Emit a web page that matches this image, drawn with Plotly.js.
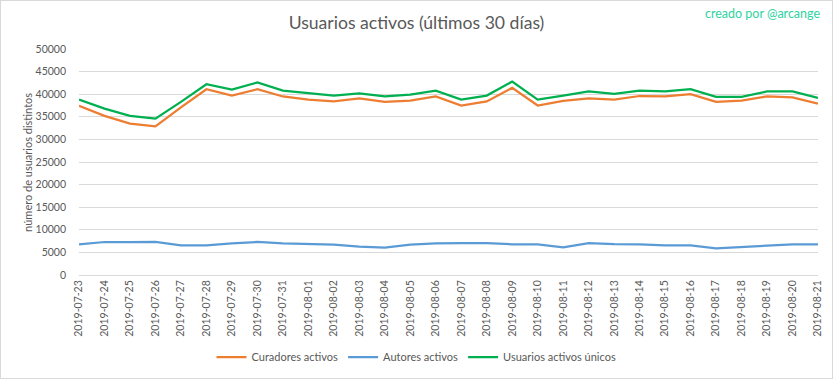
<!DOCTYPE html>
<html>
<head>
<meta charset="utf-8">
<script src="https://cdn.plot.ly/plotly-3.0.1.min.js"></script>
<style>
html,body{margin:0;padding:0;background:#fff;}
#wrap{position:relative;width:833px;height:379px;}
#chart{width:833px;height:379px;}
#frame{position:absolute;left:0;top:0;width:833px;height:379px;box-sizing:border-box;border:1px solid #d9d9d9;pointer-events:none;}
</style>
</head>
<body>
<div id="wrap"><div id="chart"></div><div id="frame"></div></div>
<script>
const dates = ["2019-07-23","2019-07-24","2019-07-25","2019-07-26","2019-07-27","2019-07-28","2019-07-29","2019-07-30","2019-07-31","2019-08-01","2019-08-02","2019-08-03","2019-08-04","2019-08-05","2019-08-06","2019-08-07","2019-08-08","2019-08-09","2019-08-10","2019-08-11","2019-08-12","2019-08-13","2019-08-14","2019-08-15","2019-08-16","2019-08-17","2019-08-18","2019-08-19","2019-08-20","2019-08-21"];
const curadores = [37450,35200,33500,32900,37100,41100,39700,41100,39500,38800,38400,39100,38300,38600,39500,37500,38400,41400,37500,38500,39100,38800,39600,39500,40000,38300,38600,39500,39300,37900];
const autores = [6800,7300,7300,7350,6550,6550,7000,7300,7000,6800,6700,6300,6050,6700,7000,7050,7050,6800,6800,6100,7050,6850,6800,6550,6550,5900,6150,6550,6800,6800];
const unicos = [38800,36800,35200,34600,38300,42200,41000,42600,40800,40200,39700,40200,39500,39900,40800,38800,39700,42800,38800,39700,40600,40100,40800,40600,41100,39400,39400,40600,40600,39200];
const yTicks = [0,5000,10000,15000,20000,25000,30000,35000,40000,45000,50000];

const FONT = "Lato, 'Open Sans', sans-serif";
const traces = [
  {x: dates, y: curadores, name: "Curadores activos", type: "scatter", mode: "lines", line: {color: "#ED7D31", width: 2.25}},
  {x: dates, y: autores, name: "Autores activos", type: "scatter", mode: "lines", line: {color: "#5B9BD5", width: 2.25}},
  {x: dates, y: unicos, name: "Usuarios activos únicos", type: "scatter", mode: "lines", line: {color: "#00B050", width: 2.25}}
];
const layout = {
  width: 833, height: 379,
  margin: {l: 79, r: 15, t: 49, b: 104},
  paper_bgcolor: "#fff", plot_bgcolor: "#fff",
  font: {family: FONT, color: "#595959", size: 11},
  title: {text: "Usuarios activos (últimos 30 días)", font: {size: 17.6, color: "#595959", family: FONT}, x: 0.5, xref: "container", y: 0.939, yref: "container", xanchor: "center", yanchor: "middle"},
  xaxis: {type: "category", tickangle: -90, tickfont: {size: 10.5, color: "#595959"}, showgrid: false, showline: true, linecolor: "#d9d9d9", linewidth: 1, ticks: "", fixedrange: true, automargin: false},
  yaxis: {range: [0, 50000], tickvals: yTicks, ticktext: yTicks.map(String), showgrid: true, gridcolor: "#d9d9d9", gridwidth: 1, zeroline: false, showline: false, ticks: "", tickfont: {size: 10.5, color: "#595959"}, ticklabelstandoff: 12, automargin: false},
  legend: {orientation: "h", xref: "container", yref: "container", x: 0.5, xanchor: "center", y: 0.058, yanchor: "middle", font: {size: 11, color: "#595959"}, traceorder: "normal"},
  showlegend: true,
  annotations: [
    {text: "creado por @arcange", xref: "paper", yref: "paper", x: 1.005, y: 1.157, xanchor: "right", yanchor: "middle", showarrow: false, font: {size: 12.5, color: "#2ED3A0", family: FONT}},
    {text: "número de usuarios distintos", xref: "paper", yref: "paper", x: -0.069, y: 0.496, xanchor: "center", yanchor: "middle", textangle: -90, showarrow: false, font: {size: 11, color: "#595959", family: FONT}}
  ]
};
Plotly.newPlot("chart", traces, layout, {displayModeBar: false, staticPlot: true});
</script>
</body>
</html>
